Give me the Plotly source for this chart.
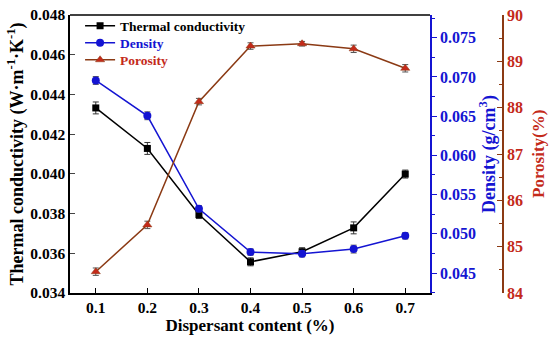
import plotly.graph_objects as go

x = [0.1, 0.2, 0.3, 0.4, 0.5, 0.6, 0.7]
thermal = [0.04332, 0.04128, 0.03795, 0.03557, 0.03608, 0.03728, 0.03999]
thermal_err = [0.0003, 0.0003, 0.0002, 0.0002, 0.0002, 0.0003, 0.0002]
density = [0.06955, 0.06505, 0.05319, 0.04767, 0.04745, 0.04805, 0.04974]
density_err = [0.0005, 0.0005, 0.0004, 0.0004, 0.0004, 0.0005, 0.0004]
porosity = [84.46, 85.47, 88.13, 89.33, 89.38, 89.27, 88.85]
porosity_err = [0.08, 0.08, 0.07, 0.07, 0.05, 0.08, 0.08]

x_ticks = [0.1, 0.2, 0.3, 0.4, 0.5, 0.6, 0.7]
tc_ticks = [0.034, 0.036, 0.038, 0.040, 0.042, 0.044, 0.046, 0.048]
den_ticks = [0.045, 0.050, 0.055, 0.060, 0.065, 0.070, 0.075]
por_ticks = [84, 85, 86, 87, 88, 89, 90]

BLACK = "#000000"
BLUE = "#1414D2"
BROWN = "#8B3A14"
RED = "#C42A1A"
FONT = "Liberation Serif"

fig = go.Figure()
fig.add_trace(go.Scatter(
    x=x, y=thermal, name="<b>Thermal conductivity</b>", mode="lines+markers",
    line=dict(color=BLACK, width=1.5),
    marker=dict(symbol="square", size=7, color=BLACK),
    error_y=dict(type="data", array=thermal_err, color="#333333", thickness=1, width=3),
    yaxis="y", legend="legend"))
fig.add_trace(go.Scatter(
    x=x, y=density, name=f"<b><span style='color:{BLUE}'>Density</span></b>", mode="lines+markers",
    line=dict(color=BLUE, width=1.5),
    marker=dict(symbol="circle", size=8, color=BLUE),
    error_y=dict(type="data", array=density_err, color="#555555", thickness=1, width=3),
    yaxis="y2", legend="legend2"))
fig.add_trace(go.Scatter(
    x=x, y=porosity, name=f"<b><span style='color:{RED}'>Porosity</span></b>", mode="lines+markers",
    line=dict(color=BROWN, width=1.5),
    marker=dict(symbol="triangle-up", size=8, color=RED, line=dict(color=BROWN, width=0.5)),
    error_y=dict(type="data", array=porosity_err, color="#555555", thickness=1, width=3),
    yaxis="y3", legend="legend3"))

def leg(row_px):
    return dict(x=0.021, y=1 - (row_px - 15) / 278, xanchor="left", yanchor="middle",
                bgcolor="rgba(0,0,0,0)", font=dict(size=13.5, family=FONT),
                itemwidth=30)

fig.update_layout(
    width=550, height=341,
    margin=dict(l=70, r=0, t=15, b=48),
    plot_bgcolor="white", paper_bgcolor="white",
    font=dict(family=FONT, size=15, color=BLACK),
    showlegend=True,
    legend=leg(26), legend2=leg(43), legend3=leg(60),
    xaxis=dict(
        domain=[0, 0.75], range=[0.05, 0.748], automargin=False,
        tickvals=x_ticks, ticktext=[f"<b>{v}</b>" for v in x_ticks],
        ticks="inside", ticklen=5, tickwidth=1.2, tickcolor=BLACK,
        showline=True, linecolor=BLACK, linewidth=1.5, mirror=False,
        showgrid=False, zeroline=False,
        title=dict(text="<b>Dispersant content (%)</b>", font=dict(size=17), standoff=2),
        tickfont=dict(size=15.5)),
    yaxis=dict(
        range=[0.034, 0.048], automargin=False,
        tickvals=tc_ticks, ticktext=[f"<b>{v:.3f}</b>" for v in tc_ticks],
        ticks="inside", ticklen=5, tickwidth=1.2,
        showline=True, linecolor=BLACK, linewidth=1.5,
        showgrid=False, zeroline=False,
        title=dict(text="<b>Thermal conductivity (W·m<sup>-1</sup>·K<sup>-1</sup>)</b>",
                   font=dict(size=18), standoff=2),
        tickfont=dict(size=15.5)),
    yaxis2=dict(
        range=[0.04245, 0.0779], automargin=False,
        tickvals=den_ticks, ticktext=[f"<b>{v:.3f}</b>" for v in den_ticks],
        overlaying="y", side="right", anchor="x",
        ticks="outside", ticklen=5, tickwidth=1.2, tickcolor=BLUE,
        minor=dict(dtick=0.0025, tick0=0.045, ticks="outside", ticklen=3, tickcolor=BLUE),
        showline=True, linecolor=BLUE, linewidth=1.5,
        showgrid=False, zeroline=False,
        tickfont=dict(size=16, color=BLUE),
        title=dict(text="<b>Density (g/cm<sup>3</sup>)</b>", font=dict(size=18, color=BLUE), standoff=2)),
    yaxis3=dict(
        range=[84, 90], automargin=False,
        tickvals=por_ticks, ticktext=[f"<b>{v}</b>" for v in por_ticks],
        overlaying="y", side="right", anchor="free", position=(503 - 70) / 480,
        ticks="inside", ticklen=5, tickwidth=1.2, tickcolor=BROWN,
        minor=dict(dtick=0.5, tick0=84, ticks="inside", ticklen=3, tickcolor=BROWN),
        showline=True, linecolor=BROWN, linewidth=1.5,
        showgrid=False, zeroline=False,
        tickfont=dict(size=16, color=RED)),
)

fig.add_annotation(text="<b>Porosity(%)</b>", xref="paper", yref="paper",
                   x=(538 - 70) / 480, y=0.5, xanchor="center", yanchor="middle",
                   textangle=-90, showarrow=False, font=dict(size=17, color=RED, family=FONT))

# top border of the plot area
fig.add_shape(type="line", xref="x domain", yref="y domain", x0=0, x1=1, y0=1, y1=1,
              line=dict(color=BLACK, width=1.5))

fig.write_html("out.html", config={"displayModeBar": False},
               post_script="document.body.style.margin='0';")
